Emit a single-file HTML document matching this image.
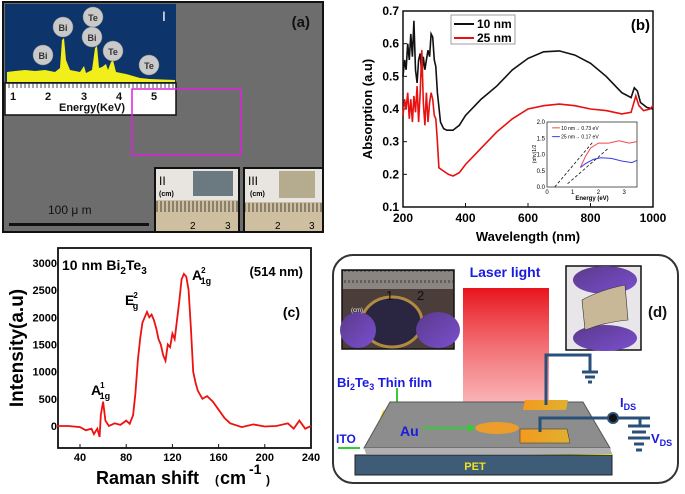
<!DOCTYPE html>
<html><head><meta charset="utf-8"><style>
body{margin:0;width:685px;height:494px;background:#fff;overflow:hidden;font-family:"Liberation Sans",sans-serif}
svg{position:absolute;left:0;top:0}
text{font-family:"Liberation Sans",sans-serif}
</style></head><body>
<svg width="685" height="494" viewBox="0 0 685 494">
<defs>
<linearGradient id="beam" x1="0" y1="0" x2="0" y2="1"><stop offset="0" stop-color="#e8141c"/><stop offset="0.6" stop-color="#f36f74" stop-opacity="0.7"/><stop offset="1" stop-color="#f8a0a0" stop-opacity="0.4"/></linearGradient>
<linearGradient id="glove" x1="0" y1="0" x2="1" y2="1"><stop offset="0" stop-color="#5a3a8a"/><stop offset="1" stop-color="#7a4fd0"/></linearGradient>
<linearGradient id="gold" x1="0" y1="0" x2="1" y2="0"><stop offset="0" stop-color="#f39a1e"/><stop offset="1" stop-color="#e0b030"/></linearGradient>
<pattern id="ruler" width="4" height="20" patternUnits="userSpaceOnUse"><line x1="1" y1="0" x2="1" y2="12" stroke="#222" stroke-width="0.8"/></pattern>
</defs>
<!-- Panel a -->
<g>
<rect x="3" y="2" width="320" height="230" fill="#6d6d6d" stroke="#111" stroke-width="2"/>
<rect x="5" y="4" width="171" height="79" fill="#0d356b"/>
<rect x="5" y="83" width="171" height="32" fill="#fff" stroke="#111" stroke-width="1.5"/>
<polygon fill="#f2ee1a" points="7,82 7,72 15,71 25,70 35,71 45,70 55,72 60,68 62,40 64,38 66,60 70,70 80,72 84,66 86,73 92,70 95,48 97,46 99,68 102,67 106,64 108,70 111,62 113,60 116,72 121,73 126,74 140,78 150,79 175,80 175,82"/>
<g fill="#c9c9c9" stroke="#888" stroke-width="0.5">
<circle cx="43" cy="55" r="10"/><circle cx="63" cy="27" r="10"/><circle cx="93" cy="17" r="10"/><circle cx="92" cy="37" r="10"/><circle cx="113" cy="51" r="10"/><circle cx="149" cy="65" r="10"/>
</g>
<g font-size="9" font-weight="bold" fill="#333" text-anchor="middle">
<text x="43" y="59">Bi</text>
<text x="63" y="31">Bi</text>
<text x="93" y="21">Te</text>
<text x="92" y="41">Bi</text>
<text x="113" y="55">Te</text>
<text x="149" y="69">Te</text>
</g>
<text x="162" y="21" font-size="14" fill="#fff" font-family="Liberation Serif">I</text>
<g font-size="11" font-weight="bold" fill="#111" text-anchor="middle">
<text x="13" y="100">1</text><text x="48" y="100">2</text><text x="84" y="100">3</text><text x="119" y="100">4</text><text x="154" y="100">5</text>
</g>
<rect x="7" y="83" width="168" height="5" fill="url(#ruler)"/>
<text x="92" y="111" font-size="11" font-weight="bold" text-anchor="middle" fill="#111">Energy(KeV)</text>
<rect x="132" y="89" width="109" height="66" fill="none" stroke="#e020e0" stroke-width="1.5"/>
<text x="310" y="27" font-size="15" font-weight="bold" text-anchor="end" fill="#111">(a)</text>
<text x="48" y="214" font-size="12" fill="#111">100 μ m</text>
<rect x="9" y="223" width="140" height="3" fill="#111"/>
<g>
<rect x="155" y="168" width="84" height="64" fill="#e8e4e0" stroke="#111" stroke-width="2"/>
<rect x="193" y="171" width="40" height="25" fill="#6b7a80"/>
<rect x="156" y="200" width="82" height="31" fill="#cdbfa0"/>
<rect x="156" y="201" width="82" height="15" fill="url(#ruler)"/>
<text x="159" y="185" font-size="12" font-family="Liberation Serif">II</text><text x="159" y="196" font-size="7" font-weight="bold">(cm)</text>
<text x="190" y="229" font-size="10">2</text><text x="225" y="229" font-size="10">3</text>
</g>
<g>
<rect x="244" y="168" width="79" height="64" fill="#e8e4e0" stroke="#111" stroke-width="2"/>
<rect x="279" y="171" width="36" height="27" fill="#b5ac90"/>
<rect x="245" y="202" width="77" height="29" fill="#cdbfa0"/>
<rect x="245" y="203" width="77" height="14" fill="url(#ruler)"/>
<text x="248" y="185" font-size="12" font-family="Liberation Serif">III</text><text x="250" y="196" font-size="7" font-weight="bold">(cm)</text>
<text x="275" y="229" font-size="10">2</text><text x="309" y="229" font-size="10">3</text>
</g>
</g>
<!-- Panel b -->
<g id="pb"></g>
<!-- Panel c -->
<g id="pc"></g>
<!-- Panel d -->
<g>
<rect x="333" y="255" width="345" height="228" rx="20" fill="#fff" stroke="#333" stroke-width="2"/>
<rect x="463" y="288" width="86" height="155" fill="url(#beam)"/>
<text x="505" y="277" font-size="14" font-weight="bold" fill="#1a1ae0" text-anchor="middle">Laser light</text>
<g>
<rect x="342" y="270" width="112" height="79" fill="#4a3d3a" stroke="#111" stroke-width="1.5"/>
<rect x="343" y="271" width="110" height="18" fill="#8a8580"/>
<rect x="343" y="271" width="110" height="12" fill="url(#ruler)"/>
<ellipse cx="392" cy="322" rx="30" ry="25" fill="#2a2540" stroke="#b08a40" stroke-width="3"/>
<ellipse cx="358" cy="330" rx="18" ry="18" fill="url(#glove)"/>
<ellipse cx="438" cy="330" rx="22" ry="18" fill="url(#glove)"/>
<text x="386" y="300" font-size="13" fill="#111">1</text><text x="417" y="300" font-size="13" fill="#111">2</text>
<text x="351" y="312" font-size="6" fill="#eee">(cm)</text>
</g>
<g>
<rect x="566" y="266" width="75" height="84" fill="#e8e6e8" stroke="#111" stroke-width="1.5"/>
<ellipse cx="605" cy="280" rx="32" ry="14" fill="url(#glove)"/>
<ellipse cx="605" cy="338" rx="32" ry="13" fill="url(#glove)"/>
<path d="M582,300 Q600,290 625,285 L628,320 Q605,322 585,330 Z" fill="#c8b898" stroke="#333" stroke-width="0.6"/>
</g>
<text x="648" y="317" font-size="15" font-weight="bold" fill="#111">(d)</text>
<text x="337" y="387" font-size="13" font-weight="bold" fill="#1a1ae0">Bi<tspan font-size="9" dy="3">2</tspan><tspan dy="-3">Te</tspan><tspan font-size="9" dy="3">3</tspan><tspan dy="-3"> Thin  film</tspan></text>
<line x1="397" y1="388" x2="397" y2="410" stroke="#33cc33" stroke-width="2"/>
<polygon points="393,408 401,408 397,415" fill="#33cc33"/>
<polygon points="355,455 612,455 612,475 355,475" fill="#3e5c78" stroke="#222"/>
<text x="475" y="470" font-size="11" font-weight="bold" fill="#f0e020" text-anchor="middle">PET</text>
<polygon points="383,410 368,452 612,455 612,452" fill="#f0e020"/>
<polygon points="390,402 583,402 610,448 364,448" fill="#8d8d8d" stroke="#555"/>
<polygon points="364,448 610,448 612,454 366,454" fill="#b0b0b0"/>
<ellipse cx="497" cy="428" rx="22" ry="6" fill="#f5a020" opacity="0.9"/>
<polygon points="525,400 568,400 566,410 523,410" fill="url(#gold)"/>
<polygon points="520,429 567,429 570,443 520,443" fill="url(#gold)" stroke="#333" stroke-width="0.5"/>
<text x="400" y="436" font-size="14" font-weight="bold" fill="#1a1ae0">Au</text>
<line x1="423" y1="428" x2="470" y2="428" stroke="#33cc33" stroke-width="2"/>
<polygon points="468,424 476,428 468,432" fill="#33cc33"/>
<text x="336" y="443" font-size="12" font-weight="bold" fill="#1a1ae0">ITO</text>
<line x1="338" y1="448" x2="360" y2="448" stroke="#33cc33" stroke-width="2"/>
<g stroke="#2a4f78" stroke-width="3" fill="none">
<polyline points="546,405 546,355 590,355 590,372"/>
<polyline points="540,432 540,418 612,418 650,418"/>
<line x1="582" y1="372" x2="598" y2="372"/><line x1="585" y1="377" x2="595" y2="377"/><line x1="588" y1="382" x2="592" y2="382"/>
<polyline points="650,418 640,418 640,426"/>
<line x1="628" y1="426" x2="650" y2="426"/><line x1="632" y1="432" x2="646" y2="432"/><line x1="628" y1="438" x2="650" y2="438"/><line x1="634" y1="444" x2="644" y2="444"/><line x1="636" y1="450" x2="642" y2="450"/>
</g>
<circle cx="613" cy="418" r="5" fill="#111" stroke="#2a4f78" stroke-width="2"/>
<text x="620" y="407" font-size="13" font-weight="bold" fill="#1a1ae0">I<tspan font-size="9" dy="3">DS</tspan></text>
<text x="651" y="443" font-size="13" font-weight="bold" fill="#1a1ae0">V<tspan font-size="9" dy="3">DS</tspan></text>
</g>
</svg>
<script>
// ===== Panel b data =====
const wl10=[200,205,210,215,220,225,230,235,240,245,250,255,260,265,270,275,280,285,290,295,300,305,310,320,330,340,360,380,400,450,500,550,600,650,700,750,800,850,900,930,940,950,960,980,1000];
const abs10=[0.50,0.55,0.52,0.60,0.55,0.63,0.56,0.67,0.52,0.48,0.55,0.57,0.50,0.56,0.52,0.55,0.58,0.56,0.63,0.62,0.55,0.53,0.45,0.36,0.34,0.335,0.335,0.35,0.38,0.43,0.47,0.52,0.555,0.575,0.578,0.565,0.54,0.50,0.45,0.435,0.465,0.455,0.42,0.405,0.40];
const wl25=[200,205,210,215,220,225,230,235,240,245,250,255,260,265,270,275,280,285,290,295,300,305,310,315,330,345,360,380,400,450,500,550,600,650,700,750,800,850,900,930,945,955,970,990,1000];
const abs25=[0.38,0.43,0.40,0.45,0.37,0.43,0.36,0.44,0.39,0.47,0.36,0.45,0.58,0.42,0.35,0.45,0.36,0.42,0.45,0.43,0.38,0.37,0.30,0.22,0.21,0.20,0.195,0.205,0.23,0.28,0.33,0.37,0.40,0.41,0.415,0.41,0.40,0.395,0.385,0.39,0.44,0.41,0.395,0.40,0.41];
const bXTicks=[200,400,600,800,1000];
const bYTicks=[0.1,0.2,0.3,0.4,0.5,0.6,0.7];
const inE10=[1.3,1.5,1.7,2.0,2.4,2.8,3.2,3.5];
const inV10=[0.6,0.95,1.2,1.35,1.35,1.42,1.35,1.4];
const inE25=[1.3,1.5,1.8,2.1,2.5,2.9,3.3,3.5];
const inV25=[0.6,0.72,0.85,0.9,0.88,0.8,0.75,0.82];
const inXTicks=[0,1,2,3];
const inYTicks=[0,0.5,1.0,1.5,2.0];
// ===== Panel c data =====
const ramX=[20,30,40,45,50,52,55,57,58,60,62,65,70,75,80,83,86,88,90,92,94,96,98,100,102,104,106,108,110,112,114,116,118,120,122,124,126,128,130,132,134,136,138,140,142,146,150,155,160,165,170,180,190,200,210,220,225,230,235,240];
const ramY=[0,0,-20,-80,-50,-150,-50,-200,200,450,100,0,50,20,100,40,200,600,1200,1600,1900,2000,2100,2000,2050,1950,1800,1600,1500,1300,1200,1500,1450,1700,1600,1950,2300,2700,2800,2750,2500,1800,1000,800,650,500,550,450,300,150,50,-20,30,-10,0,50,-50,100,-50,0];
const cXTicks=[40,80,120,160,200,240];
const cYTicks=[0,500,1000,1500,2000,2500,3000];

const NS='http://www.w3.org/2000/svg';
function mk(parent,tag,attrs,txt){const e=document.createElementNS(NS,tag);for(const k in attrs)e.setAttribute(k,attrs[k]);if(txt!==undefined)e.textContent=txt;parent.appendChild(e);return e;}
function pathOf(xs,ys,fx,fy){return xs.map((x,i)=>(i?'L':'M')+fx(x).toFixed(1)+','+fy(ys[i]).toFixed(1)).join(' ');}

// Panel b
const pb=document.getElementById('pb');
const bx=v=>403+(v-200)/800*250, by=v=>11+(0.7-v)/0.6*196;
let e=mk(pb,'rect',{x:403,y:11,width:250,height:196,fill:'none',stroke:'#111','stroke-width':1.5});


bXTicks.forEach(t=>{mk(pb,'line',{x1:bx(t),x2:bx(t),y1:207,y2:203,stroke:'#111'});
 e=mk(pb,'text',{x:bx(t),y:222,'font-size':12,'font-weight':'bold','text-anchor':'middle'},t);
 
 });
bYTicks.forEach(t=>{mk(pb,'line',{x1:403,x2:407,y1:by(t),y2:by(t),stroke:'#111'});
 e=mk(pb,'text',{x:399,y:by(t)+4,'font-size':12,'font-weight':'bold','text-anchor':'end'},t.toFixed(1));
 
 });
e=mk(pb,'text',{x:0,y:0,'font-size':13,'font-weight':'bold','text-anchor':'middle',transform:'translate(372,109) rotate(-90)'},'Absorption (a.u)');


e=mk(pb,'text',{x:528,y:241,'font-size':13,'font-weight':'bold','text-anchor':'middle'},'Wavelength (nm)');


e=mk(pb,'path',{d:pathOf(wl10,abs10,bx,by),fill:'none',stroke:'#111','stroke-width':1.6});


e=mk(pb,'path',{d:pathOf(wl25,abs25,bx,by),fill:'none',stroke:'#e81010','stroke-width':1.6});


e=mk(pb,'rect',{x:451,y:15,width:64,height:29,fill:'#fff',stroke:'#888','stroke-width':0.8});


mk(pb,'line',{x1:454,x2:474,y1:24,y2:24,stroke:'#111','stroke-width':2});
mk(pb,'line',{x1:454,x2:474,y1:38,y2:38,stroke:'#e81010','stroke-width':2});
e=mk(pb,'text',{x:477,y:28,'font-size':12,'font-weight':'bold'},'10 nm');


e=mk(pb,'text',{x:477,y:42,'font-size':12,'font-weight':'bold'},'25 nm');


e=mk(pb,'text',{x:650,y:30,'font-size':15,'font-weight':'bold','text-anchor':'end'},'(b)');


// inset
const ix=v=>547+v/3.5*90, iy=v=>187-v/2*65;
e=mk(pb,'rect',{x:547,y:122,width:90,height:65,fill:'#fff',stroke:'#333','stroke-width':0.8});


inXTicks.forEach(t=>mk(pb,'text',{x:ix(t),y:194,'font-size':6,'text-anchor':'middle'},t));
inYTicks.forEach(t=>mk(pb,'text',{x:545,y:iy(t)+2,'font-size':6,'text-anchor':'end'},t.toFixed(1)));
mk(pb,'text',{x:592,y:200,'font-size':6,'font-weight':'bold','text-anchor':'middle'},'Energy (eV)');
mk(pb,'text',{x:0,y:0,'font-size':5,'text-anchor':'middle',transform:'translate(536,154) rotate(-90)'},'(αhν)1/2');
e=mk(pb,'path',{d:pathOf(inE10,inV10,ix,iy),fill:'none',stroke:'#f04848','stroke-width':1});


e=mk(pb,'path',{d:pathOf(inE25,inV25,ix,iy),fill:'none',stroke:'#3a3af0','stroke-width':1});


mk(pb,'line',{x1:ix(0.3),y1:iy(0),x2:ix(1.8),y2:iy(1.4),stroke:'#111','stroke-dasharray':'3,2','stroke-width':0.8});
mk(pb,'line',{x1:ix(0.8),y1:iy(0.1),x2:ix(2.4),y2:iy(1.2),stroke:'#111','stroke-dasharray':'3,2','stroke-width':0.8});
mk(pb,'line',{x1:ix(0.2),x2:ix(0.5),y1:iy(1.82),y2:iy(1.82),stroke:'#f04848'});
mk(pb,'line',{x1:ix(0.2),x2:ix(0.5),y1:iy(1.55),y2:iy(1.55),stroke:'#3a3af0'});
mk(pb,'text',{x:ix(0.55),y:iy(1.82)+2,'font-size':5},'10 nm→ 0.73 eV');
mk(pb,'text',{x:ix(0.55),y:iy(1.55)+2,'font-size':5},'25 nm→ 0.17 eV');

// Panel c
const pc=document.getElementById('pc');
const cx=v=>80+(v-40)/200*231, cy=v=>426-v/3000*163;
e=mk(pc,'rect',{x:58,y:248,width:253,height:200,fill:'none',stroke:'#111','stroke-width':1.8});


cXTicks.forEach(t=>{mk(pc,'line',{x1:cx(t),x2:cx(t),y1:448,y2:444,stroke:'#111'});
 e=mk(pc,'text',{x:cx(t),y:461,'font-size':11,'font-weight':'bold','text-anchor':'middle'},t);
 
 });
cYTicks.forEach(t=>{
 e=mk(pc,'text',{x:57,y:cy(t)+4,'font-size':11,'font-weight':'bold','text-anchor':'end'},t);
 
 });
e=mk(pc,'text',{x:0,y:0,'font-size':19,'font-weight':'bold','text-anchor':'middle',transform:'translate(23,348) rotate(-90)'},'Intensity(a.u)');


e=mk(pc,'text',{x:96,y:484,'font-size':18,'font-weight':'bold'},'Raman shift ');


mk(pc,'text',{x:215,y:484,'font-size':12,'font-weight':'bold'},'(');
mk(pc,'text',{x:220,y:484,'font-size':18,'font-weight':'bold'},'cm');
mk(pc,'text',{x:249,y:474,'font-size':14,'font-weight':'bold'},'-1');
mk(pc,'text',{x:266,y:484,'font-size':12,'font-weight':'bold'},')');
e=mk(pc,'path',{d:pathOf(ramX,ramY,cx,cy),fill:'none',stroke:'#ee1111','stroke-width':1.8});


e=mk(pc,'text',{x:62,y:270,'font-size':14,'font-weight':'bold'},'');
e.innerHTML='10 nm Bi<tspan font-size="10" dy="4">2</tspan><tspan dy="-4">Te</tspan><tspan font-size="10" dy="4">3</tspan>';


e=mk(pc,'text',{x:303,y:276,'font-size':13,'font-weight':'bold','text-anchor':'end'},'(514 nm)');


e=mk(pc,'text',{x:300,y:317,'font-size':14,'font-weight':'bold','text-anchor':'end'},'(c)');


function peak(x,y,big,sup,name){const t=mk(pc,'text',{x:x,y:y,'font-size':14,'font-weight':'bold'},'');
 t.innerHTML=big+'<tspan font-size="8" dx="-1" dy="-7">'+sup+'</tspan><tspan font-size="9" dx="-5" dy="11">'+(big==='E'?'g':'1g')+'</tspan>';
 
 }
peak(91,395,'A','1','peak-label-a1g-1');
peak(125,305,'E','2','peak-label-eg-2');
peak(192,280,'A','2','peak-label-a1g-2');
</script>
</body></html>
